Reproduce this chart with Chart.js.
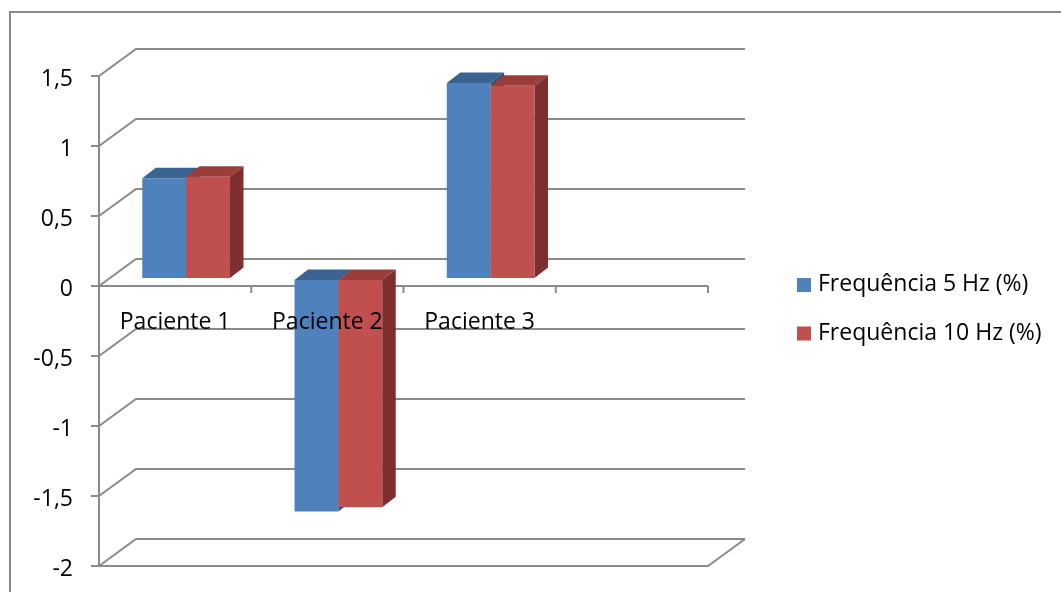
<!DOCTYPE html>
<html>
<head>
<meta charset="utf-8">
<title>Frequência por paciente</title>
<script src="https://cdn.jsdelivr.net/npm/chart.js@4/dist/chart.umd.min.js"></script>
<style>
  html, body { margin: 0; padding: 0; background: #ffffff; }
  #wrap { width: 1061px; height: 592px; }
</style>
</head>
<body>
<div id="wrap"><canvas id="chart" width="1061" height="592"></canvas></div>
<script>
// Categories (the last slot is an empty category on the axis)
const categories = ['Paciente 1', 'Paciente 2', 'Paciente 3', ''];

// Series values
const freq5 = [0.72, -1.66, 1.40, null];
const freq10 = [0.73, -1.63, 1.38, null];

const seriesLabels = ['Frequência 5 Hz (%)', 'Frequência 10 Hz (%)'];

// Value axis range
const yMin = -2;
const yMax = 1.5;
const yStep = 0.5;

const FONT = '"Open Sans", "Noto Sans", sans-serif';
const FONT_SIZE = 23;
const GRID = '#8a8a8a';

// Perspective offsets
const WALL = { x: 37, y: -27 };    // depth of the back wall
const SHIFT = { x: 11, y: -7 };    // front face of the bars inside the box
const BAR = { x: 13.5, y: -10.5 }; // depth of each bar

const faceColors = [
  { front: '#4f81bd', top: '#3b6392', side: '#2f5079' },
  { front: '#c0504d', top: '#9a3d3b', side: '#7c2f2d' }
];

function shade(ctx, pts, color) {
  ctx.beginPath();
  ctx.moveTo(pts[0][0], pts[0][1]);
  for (let i = 1; i < pts.length; i++) ctx.lineTo(pts[i][0], pts[i][1]);
  ctx.closePath();
  ctx.fillStyle = color;
  ctx.fill();
}

const box3d = {
  id: 'box3d',
  beforeDatasetsDraw(chart) {
    const { ctx, chartArea: a, scales: { y } } = chart;
    ctx.save();
    // outer frame
    ctx.strokeStyle = GRID;
    ctx.lineWidth = 2;
    ctx.strokeRect(10, 12, 1200, 700);

    // back wall lines with their diagonals to the front axis
    y.ticks.forEach(t => {
      const py = y.getPixelForValue(t.value);
      ctx.beginPath();
      ctx.moveTo(a.left, py);
      ctx.lineTo(a.left + WALL.x, py + WALL.y);
      ctx.lineTo(a.right + WALL.x, py + WALL.y);
      ctx.stroke();
    });
    // floor front edge and right diagonal
    const pyMin = y.getPixelForValue(yMin);
    ctx.beginPath();
    ctx.moveTo(a.left, pyMin);
    ctx.lineTo(a.right, pyMin);
    ctx.lineTo(a.right + WALL.x, pyMin + WALL.y);
    ctx.stroke();
    // category axis at zero with tick marks between categories
    const py0 = y.getPixelForValue(0);
    ctx.beginPath();
    ctx.moveTo(a.left, py0);
    ctx.lineTo(a.right, py0);
    const step = (a.right - a.left) / categories.length;
    for (let i = 1; i <= categories.length; i++) {
      const tx = a.left + step * i;
      ctx.moveTo(tx, py0);
      ctx.lineTo(tx, py0 + 7);
    }
    ctx.stroke();
    ctx.restore();
  },
  // bars are painted below as solid blocks, in series order
  beforeDatasetDraw() {
    return false;
  },
  afterDatasetsDraw(chart) {
    const { ctx, scales: { x, y } } = chart;
    ctx.save();
    ctx.translate(SHIFT.x, SHIFT.y);
    chart.data.datasets.forEach((ds, di) => {
      const c = faceColors[di];
      chart.getDatasetMeta(di).data.forEach((bar, i) => {
        if (ds.data[i] == null) return;
        const l = bar.x - bar.width / 2;
        const r = bar.x + bar.width / 2;
        const top = Math.min(bar.y, bar.base);
        const bot = Math.max(bar.y, bar.base);
        shade(ctx, [[l, top], [r, top], [r + BAR.x, top + BAR.y], [l + BAR.x, top + BAR.y]], c.top);
        shade(ctx, [[r, top], [r + BAR.x, top + BAR.y], [r + BAR.x, bot + BAR.y], [r, bot]], c.side);
        bar.draw(ctx);
      });
    });
    ctx.restore();

    // category labels, written over the bars
    const py0 = y.getPixelForValue(0);
    ctx.save();
    ctx.fillStyle = '#000';
    ctx.font = FONT_SIZE + 'px ' + FONT;
    ctx.textAlign = 'center';
    ctx.textBaseline = 'alphabetic';
    categories.forEach((c, i) => {
      if (!c) return;
      ctx.fillText(c, x.getPixelForValue(i), py0 + 43);
    });
    // legend
    ctx.textAlign = 'left';
    chart.data.datasets.forEach((ds, i) => {
      const yy = 278 + i * 48.5;
      ctx.fillStyle = ds.backgroundColor;
      ctx.fillRect(797, yy, 14, 14);
      ctx.fillStyle = '#000';
      ctx.fillText(ds.label, 818, yy + 13);
    });
    ctx.restore();
  }
};

new Chart(document.getElementById('chart'), {
  type: 'bar',
  data: {
    labels: categories,
    datasets: [
      { label: seriesLabels[0], data: freq5, backgroundColor: faceColors[0].front },
      { label: seriesLabels[1], data: freq10, backgroundColor: faceColors[1].front }
    ]
  },
  options: {
    responsive: false,
    animation: false,
    devicePixelRatio: 1,
    categoryPercentage: 0.576,
    barPercentage: 1,
    clip: false,
    layout: { padding: { top: 76, bottom: 26, left: 0, right: 353 } },
    plugins: {
      legend: { display: false },
      tooltip: { enabled: false }
    },
    scales: {
      x: { display: false, offset: true },
      y: {
        min: yMin,
        max: yMax,
        afterFit(scale) {
          scale.width = 99;
          scale.paddingTop = 0;
          scale.paddingBottom = 0;
        },
        ticks: {
          stepSize: yStep,
          padding: 18,
          labelOffset: 3,
          color: '#000',
          font: { family: FONT, size: FONT_SIZE },
          callback: v => String(v).replace('.', ',')
        },
        grid: { drawOnChartArea: false, drawTicks: true, tickLength: 8, color: GRID, lineWidth: 2 },
        border: { display: true, color: GRID, width: 2 }
      }
    }
  },
  plugins: [box3d]
});
</script>
</body>
</html>
